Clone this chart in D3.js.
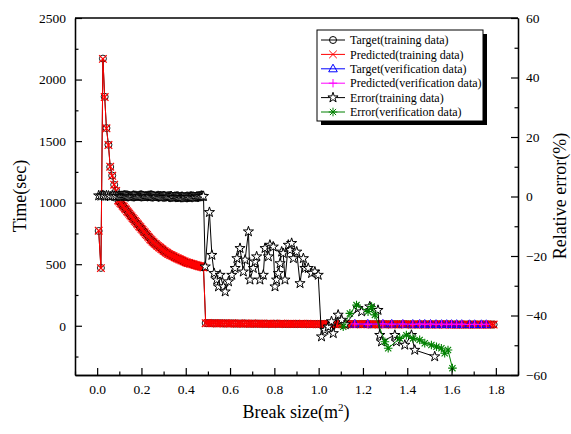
<!DOCTYPE html>
<html><head><meta charset="utf-8">
<script src="https://cdn.jsdelivr.net/npm/d3@7"></script>
<style>
body{margin:0;background:#fff}
svg{display:block}
text{font-family:"Liberation Serif","Times New Roman",serif;fill:#000}
</style>
</head><body>
<svg id="chart" width="571" height="434"></svg>
<script>
// ---------- DATA ----------
const trainX = [0.007,0.017,0.026,0.034,0.042,0.051,0.059,0.068,0.077,0.086,
  0.095,0.1,0.105,0.11,0.115,0.12,0.125,0.13,0.135,0.14,
  0.145,0.15,0.155,0.16,0.165,0.17,0.175,0.18,0.185,0.19,
  0.195,0.2,0.205,0.21,0.215,0.22,0.225,0.23,0.235,0.24,
  0.245,0.25,0.255,0.26,0.265,0.27,0.275,0.28,0.285,0.29,
  0.295,0.3,0.305,0.31,0.315,0.32,0.325,0.33,0.335,0.34,
  0.345,0.35,0.355,0.36,0.365,0.37,0.375,0.38,0.385,0.39,
  0.395,0.4,0.405,0.41,0.415,0.42,0.425,0.43,0.435,0.44,
  0.445,0.45,0.455,0.46,0.465,0.47,0.475,0.48,
  0.49,0.5,0.51,0.52,0.53,0.54,0.55,0.56,0.57,0.58,
  0.59,0.6,0.61,0.62,0.63,0.64,0.65,0.66,0.67,0.68,
  0.69,0.7,0.71,0.72,0.73,0.74,0.75,0.76,0.77,0.78,
  0.79,0.8,0.81,0.82,0.83,0.84,0.85,0.86,0.87,0.88,
  0.89,0.9,0.91,0.92,0.93,0.94,0.95,0.96,0.97,0.98,
  0.99,1,1.01,1.02,1.03,1.04,1.05,1.06,1.07,1.08,
  1.09,1.1,1.11,1.12,1.13,1.14,1.15,1.16,1.17,1.18,
  1.19,1.2,1.21,1.22,1.23,1.24,1.25,1.26,1.27,1.28,
  1.29,1.3,1.31,1.32,1.33,1.34,1.35,1.36,1.37,1.38,
  1.39,1.4,1.41,1.42,1.43,1.44,1.45,1.46,1.47,1.48,
  1.49,1.5,1.51,1.52,1.53,1.54,1.55,1.56,1.57,1.58,
  1.59,1.6,1.61,1.62,1.63,1.64,1.65,1.66,1.67,1.68,
  1.69,1.7,1.71,1.72,1.73,1.74,1.75,1.76,1.77,1.78,
  1.79];
const trainTarget = [770,470,2170,1860,1606,1470,1290,1220,1145,1097,
  1020,1009,998,987,976,965,954,943,932,920,
  909,898,887,876,865,854,843,832,821,810,
  800,789,778,767,757,746,736,725,715,704,
  694,685,676,668,661,653,646,639,632,625,
  618,611,604,598,592,586,581,576,572,567,
  563,558,554,549,545,541,537,533,529,525,
  521,517,513,510,508,505,503,500,498,495,
  492,490,487,485,482,480,477,475,
  22,21,21,21,20,20,20,20,19,19,
  19,19,19,18,18,18,18,18,18,17,
  17,17,17,17,17,17,16,16,16,16,
  16,16,16,16,16,15,15,15,15,15,
  15,15,15,15,15,15,15,14,14,14,
  14,14,14,14,14,14,14,14,14,14,
  13,13,13,13,13,13,13,13,13,13,
  13,13,13,13,12,12,12,12,12,12,
  12,12,12,12,12,12,12,12,12,12,
  12,12,11,11,11,11,11,11,11,11,
  11,11,11,11,11,11,11,11,11,11,
  11,11,10,10,10,10,10,10,10,10,
  10,10,10,10,10,10,10,10,10,10,
  10];
const trainPred = [772,468,2168,1858,1604,1468,1292,1218,1146,1095,
  1018,1010,996,988,975,966,953,944,930,921,
  910,897,888,875,866,853,844,831,822,809,
  801,788,779,766,758,745,737,724,716,703,
  695,684,677,667,662,652,647,638,633,624,
  619,610,605,597,593,585,582,575,573,566,
  564,557,555,548,546,540,538,532,530,524,
  522,516,514,509,509,504,504,499,499,494,
  493,489,488,484,483,479,478,474,
  21,22,20,21,21,19,20,21,19,20,
  18,19,20,18,17,19,18,17,19,18,
  16,18,17,16,18,17,17,15,16,17,
  15,17,16,15,17,16,14,16,15,16,
  14,16,15,14,16,15,16,13,15,14,
  15,13,14,15,13,15,14,13,15,14,
  12,14,13,12,14,13,14,12,13,14,
  12,14,13,12,13,11,12,13,11,13,
  12,11,13,12,11,13,12,11,13,12,
  11,13,12,10,11,12,10,12,11,10,
  12,11,10,12,11,10,12,11,10,12,
  11,10,11,9,10,11,9,11,10,9,
  11,10,9,11,10,9,11,10,9,11,
  10];
const verX = [1.163,1.222,1.29,1.33,1.38,1.425,1.456,1.479,1.505,1.53,1.555,1.578,1.60,
  1.623,1.646,1.681,1.704,1.735,1.757];
const verTarget = [14,14,14,14,13,13,13,13,13,12,12,12,12,12,12,11,11,11,11];
const verPred = [15,13,15,13,14,12,14,12,14,11,13,11,13,11,13,10,12,10,12];

const errTrainX = [0.007,0.017,0.026,0.034,0.042,0.051,0.059,0.068,0.077,0.086,
  0.095,0.1,0.105,0.11,0.115,0.12,0.125,0.13,0.135,0.14,
  0.145,0.15,0.155,0.16,0.165,0.17,0.175,0.18,0.185,0.19,
  0.195,0.2,0.205,0.21,0.215,0.22,0.225,0.23,0.235,0.24,
  0.245,0.25,0.255,0.26,0.265,0.27,0.275,0.28,0.285,0.29,
  0.295,0.3,0.305,0.31,0.315,0.32,0.325,0.33,0.335,0.34,
  0.345,0.35,0.355,0.36,0.365,0.37,0.375,0.38,0.385,0.39,
  0.395,0.4,0.405,0.41,0.415,0.42,0.425,0.43,0.435,0.44,
  0.445,0.45,0.455,0.46,0.465,0.47,0.475,0.48,
  0.488,0.507,0.518,0.528,0.540,0.548,0.555,0.570,0.578,0.593,0.608,0.623,0.631,0.645,0.660,
  0.668,0.683,0.690,0.705,0.713,0.720,0.735,0.750,0.758,0.773,0.780,0.795,0.803,0.810,0.818,
  0.826,0.833,0.840,0.848,0.863,0.871,0.878,0.886,0.901,0.916,0.931,0.938,0.953,0.968,0.983,
  0.998,1.013,1.028,1.043,1.058,1.066,1.088,1.104,1.120,1.178,1.194,1.231,1.268,1.276,1.284,
  1.344,1.351,1.389,1.419,1.434,1.524];
const errTrain = [0.3,0.2,0.4,0.1,0.3,0.2,0.0,0.3,0.2,0.1,
  0.2,0.1,0.0,0.1,0.1,0.2,0.3,0.2,0.2,0.1,
  0.0,-0.1,-0.1,0.1,0.2,0.1,0.1,0.0,0.0,0.1,
  0.2,0.2,0.1,0.0,-0.1,0.0,0.0,0.1,0.1,0.2,
  0.2,0.1,0.0,-0.1,-0.2,0.0,0.1,0.0,0.0,-0.1,
  -0.1,0.0,0.0,-0.2,-0.2,-0.1,-0.1,0.0,0.0,-0.3,
  -0.3,-0.2,-0.2,-0.1,-0.1,-0.3,-0.3,-0.2,-0.2,-0.4,
  -0.4,-0.3,-0.2,-0.2,-0.3,-0.1,-0.1,-0.2,-0.2,-0.3,
  -0.3,-0.1,-0.1,0.0,0.0,0.2,0.1,0.1,
  -23.6,-5.3,-19.7,-25.8,-28,-30.3,-26.4,-30.3,-32,-28.6,-26.4,-24.1,-20.8,-17.4,-25.3,
  -21.3,-11.8,-28,-24.1,-21.9,-20.2,-28,-26.4,-17.4,-20.2,-16.3,-16.9,-30.3,-28,-25.8,
  -22.5,-18.6,-19.1,-28,-16.3,-18,-15.7,-20.8,-18.6,-29.2,-20.8,-24.1,-24.1,-25.8,-25.3,
  -26.4,-47.1,-44.9,-43.8,-42,-46,-39.8,-41.5,-43,-37.6,-38.7,-37,-38.2,-46.6,-48.8,
  -46.6,-48.8,-49.9,-46.6,-51.6,-53.8];
const errVerX = [1.111,1.141,1.171,1.223,1.239,1.254,1.299,1.314,1.366,1.396,1.426,1.456,
  1.479,1.509,1.532,1.554,1.569,1.584,1.604];
const errVer = [-43.8,-39.3,-36.5,-38.7,-37,-39.8,-48.8,-51,-47.7,-46.6,-47.7,-48.2,
  -49.3,-49.9,-50.5,-51,-52.7,-51.6,-57.7];

const xTicks = [0,0.2,0.4,0.6,0.8,1.0,1.2,1.4,1.6,1.8];
const xMinor = [-0.1,0.1,0.3,0.5,0.7,0.9,1.1,1.3,1.5,1.7,1.9];
const yTicks = [0,500,1000,1500,2000,2500];
const yMinor = [-250,250,750,1250,1750,2250];
const y2Ticks = [-60,-40,-20,0,20,40,60];
const y2Minor = [-50,-30,-10,10,30,50];
const legendLabels = ["Target(training data)","Predicted(training data)","Target(verification data)",
  "Predicted(verification data)","Error(training data)","Error(verification data)"];

// ---------- LAYOUT ----------
const L = 75, R = 518, T = 18, B = 375;
const svg = d3.select("#chart");
const x = d3.scaleLinear().domain([-0.1, 1.9]).range([L, R]);
const y = d3.scaleLinear().domain([-400, 2500]).range([B, T]);
const y2 = d3.scaleLinear().domain([-60, 60]).range([B, T]);

const pts = (xs, ys) => xs.map((v, i) => [v, ys[i]]).filter(d => d[1] !== undefined && d[0] !== undefined);

const M = {
  circle: "M3.5,0A3.5,3.5 0 1,1 -3.5,0A3.5,3.5 0 1,1 3.5,0Z",
  cross: "M-3.8,-3.8L3.8,3.8M-3.8,3.8L3.8,-3.8",
  tri: "M0,-4.6L4.3,3L-4.3,3Z",
  plus: "M-4.2,0H4.2M0,-4.2V4.2",
  star: d3.symbol(d3.symbolStar, 32)(),
  ast: "M-4.3,0H4.3M0,-4.3V4.3M-3.1,-3.1L3.1,3.1M-3.1,3.1L3.1,-3.1"
};

const plot = svg.append("g");
function series(data, xs, ys, color, marker, fill, msw) {
  const line = d3.line().x(d => xs(d[0])).y(d => ys(d[1]));
  plot.append("path").datum(data).attr("d", line)
    .attr("fill", "none").attr("stroke", color).attr("stroke-width", 1);
  plot.append("g").selectAll("path").data(data).join("path")
    .attr("transform", d => `translate(${xs(d[0])},${ys(d[1])})`)
    .attr("d", M[marker]).attr("fill", fill).attr("stroke", color).attr("stroke-width", msw);
}

series(pts(trainX, trainTarget), x, y, "#000", "circle", "none", 0.9);
series(pts(trainX, trainPred), x, y, "#ff0000", "cross", "none", 1.2);
series(pts(verX, verTarget), x, y, "#0000ff", "tri", "none", 1);
series(pts(verX, verPred), x, y, "#ff00ff", "plus", "none", 1);
series(pts(errTrainX, errTrain), x, y2, "#000", "star", "#fff", 1);
series(pts(errVerX, errVer), x, y2, "#008000", "ast", "none", 1.1);

// ---------- AXES ----------
const fs = "13.5px";
svg.append("g").attr("transform", `translate(0,${B})`)
  .call(d3.axisBottom(x).tickValues(xTicks).tickFormat(d3.format(".1f")).tickSize(-7).tickSizeOuter(0).tickPadding(9));
svg.append("g").attr("transform", `translate(0,${B})`)
  .call(d3.axisBottom(x).tickValues(xMinor).tickFormat("").tickSize(-3.5).tickSizeOuter(0));
svg.append("g").attr("transform", `translate(${L},0)`)
  .call(d3.axisLeft(y).tickValues(yTicks).tickFormat(d3.format("d")).tickSize(-7).tickSizeOuter(0).tickPadding(9));
svg.append("g").attr("transform", `translate(${L},0)`)
  .call(d3.axisLeft(y).tickValues(yMinor).tickFormat("").tickSize(-3.5).tickSizeOuter(0));
svg.append("g").attr("transform", `translate(${R},0)`)
  .call(d3.axisRight(y2).tickValues(y2Ticks).tickFormat(d3.format("d")).tickSize(-7).tickSizeOuter(0).tickPadding(8));
svg.append("g").attr("transform", `translate(${R},0)`)
  .call(d3.axisRight(y2).tickValues(y2Minor).tickFormat("").tickSize(-3.5).tickSizeOuter(0));
svg.append("line").attr("x1", L).attr("x2", R).attr("y1", T).attr("y2", T)
  .attr("stroke", "#000").attr("stroke-width", 1.3);
svg.selectAll(".domain").attr("stroke", "#000").attr("stroke-width", 1.3);
svg.selectAll(".tick line").attr("stroke", "#000").attr("stroke-width", 1.2);
svg.selectAll(".tick text").style("font-size", fs).style("font-family", '"Liberation Serif",serif');

svg.append("text").attr("transform", "translate(26,196) rotate(-90)")
  .attr("text-anchor", "middle").style("font-size", "18px").text("Time(sec)");
svg.append("text").attr("transform", "translate(566,196) rotate(-90)")
  .attr("text-anchor", "middle").style("font-size", "18px").text("Relative error(%)");
const xt = svg.append("text").attr("x", 296).attr("y", 418)
  .attr("text-anchor", "middle").style("font-size", "18px");
xt.append("tspan").text("Break size(m");
xt.append("tspan").attr("dy", -7).style("font-size", "11px").text("2");
xt.append("tspan").attr("dy", 7).text(")");

// ---------- LEGEND ----------
const lg = svg.append("g");
const lx = 317, ly = 30, lw = 166, lh = 91;
lg.append("rect").attr("x", lx + 4).attr("y", ly + 4).attr("width", lw).attr("height", lh).attr("fill", "#000");
lg.append("rect").attr("x", lx).attr("y", ly).attr("width", lw).attr("height", lh)
  .attr("fill", "#fff").attr("stroke", "#000").attr("stroke-width", 1);
const legColors = ["#000", "#ff0000", "#0000ff", "#ff00ff", "#000", "#008000"];
const legMarkers = ["circle", "cross", "tri", "plus", "star", "ast"];
const legFill = ["none", "none", "none", "none", "#fff", "none"];
legendLabels.forEach((t, i) => {
  const cy = ly + 10 + i * 14.4;
  lg.append("line").attr("x1", lx + 4).attr("x2", lx + 28).attr("y1", cy).attr("y2", cy)
    .attr("stroke", legColors[i]).attr("stroke-width", 1);
  lg.append("path").attr("transform", `translate(${lx + 16},${cy})`).attr("d", M[legMarkers[i]])
    .attr("fill", legFill[i]).attr("stroke", legColors[i]);
  lg.append("text").attr("x", lx + 33).attr("y", cy + 4.2).style("font-size", "12px").text(t);
});
</script>
</body></html>
